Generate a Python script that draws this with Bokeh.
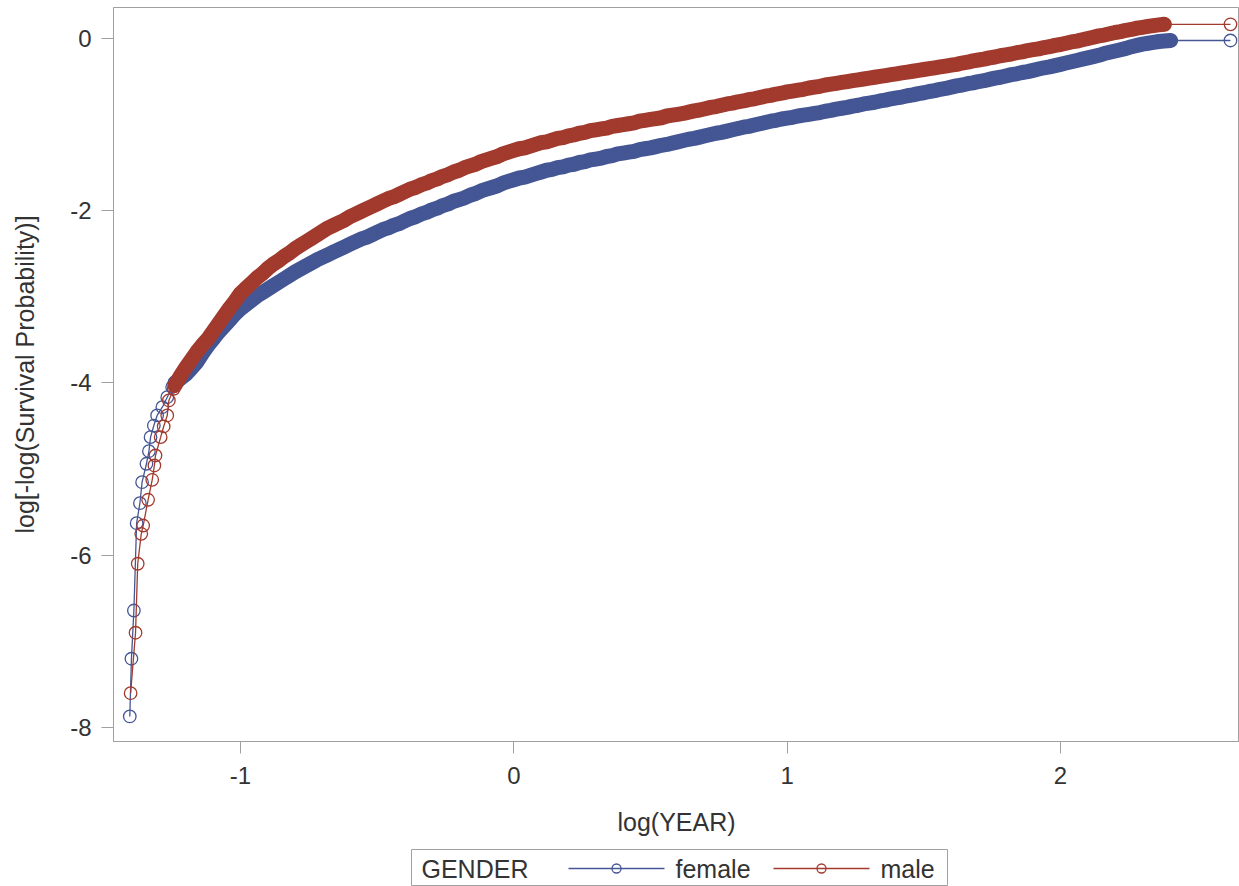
from bokeh.plotting import figure
from bokeh.models import Range1d, FixedTicker, Spacer
from bokeh.layouts import column, row
from bokeh.embed import file_html
from bokeh.resources import INLINE
from bokeh.core.properties import value

# ---------------- data ----------------
x_ticks = [-1, 0, 1, 2]
y_ticks = [-8, -6, -4, -2, 0]
x_title = "log(YEAR)"
y_title = "log[-log(Survival Probability)]"
legend_title = "GENDER"
series_names = ["female", "male"]
series_colors = ["#445694", "#A23A2E"]

# early (sparse) points
female_head_x = [-1.405, -1.399, -1.390, -1.380, -1.368, -1.360, -1.344, -1.335, -1.329, -1.317, -1.305, -1.286, -1.268, -1.250]
female_head_y = [-7.872, -7.202, -6.642, -5.628, -5.396, -5.152, -4.938, -4.792, -4.629, -4.494, -4.377, -4.281, -4.165, -4.049]
male_head_x = [-1.402, -1.384, -1.376, -1.363, -1.356, -1.338, -1.323, -1.315, -1.311, -1.292, -1.281, -1.268, -1.262, -1.244]
male_head_y = [-7.602, -6.900, -6.099, -5.751, -5.655, -5.356, -5.124, -4.958, -4.842, -4.629, -4.505, -4.377, -4.203, -4.067]

# dense part (log year positions where both curves were read)
grid_x = [
    -1.24, -1.22, -1.20, -1.18, -1.16, -1.14, -1.12, -1.10, -1.08, -1.06,
    -1.04, -1.02, -1.00, -0.98, -0.96, -0.94, -0.92, -0.90, -0.88, -0.86,
    -0.84, -0.82, -0.80, -0.78, -0.76, -0.74, -0.72, -0.70, -0.68, -0.66,
    -0.64, -0.62, -0.60, -0.58, -0.56, -0.54, -0.52, -0.50, -0.48, -0.46,
    -0.44, -0.42, -0.40, -0.38, -0.36, -0.34, -0.32, -0.30, -0.28, -0.26,
    -0.24, -0.22, -0.20, -0.18, -0.16, -0.14, -0.12, -0.10, -0.08, -0.06,
    -0.04, -0.02, 0.00, 0.02, 0.04, 0.06, 0.08, 0.10, 0.12, 0.14,
    0.16, 0.18, 0.20, 0.22, 0.24, 0.26, 0.28, 0.30, 0.32, 0.34,
    0.36, 0.38, 0.40, 0.42, 0.44, 0.46, 0.48, 0.50, 0.52, 0.54,
    0.56, 0.58, 0.60, 0.62, 0.64, 0.66, 0.68, 0.70, 0.72, 0.74,
    0.76, 0.78, 0.80, 0.82, 0.84, 0.86, 0.88, 0.90, 0.92, 0.94,
    0.96, 0.98, 1.00, 1.02, 1.04, 1.06, 1.08, 1.10, 1.12, 1.14,
    1.16, 1.18, 1.20, 1.22, 1.24, 1.26, 1.28, 1.30, 1.32, 1.34,
    1.36, 1.38, 1.40, 1.42, 1.44, 1.46, 1.48, 1.50, 1.52, 1.54,
    1.56, 1.58, 1.60, 1.62, 1.64, 1.66, 1.68, 1.70, 1.72, 1.74,
    1.76, 1.78, 1.80, 1.82, 1.84, 1.86, 1.88, 1.90, 1.92, 1.94,
    1.96, 1.98, 2.00, 2.02, 2.04, 2.06, 2.08, 2.10, 2.12, 2.14,
    2.16, 2.18, 2.20, 2.22, 2.24, 2.26, 2.28, 2.30, 2.32, 2.34,
    2.36, 2.38,
]
male_grid_y = [
    -4.03, -3.92, -3.82, -3.73, -3.64, -3.56, -3.49, -3.40, -3.31, -3.22,
    -3.13, -3.05, -2.96, -2.90, -2.84, -2.78, -2.73, -2.67, -2.62, -2.58,
    -2.53, -2.49, -2.44, -2.40, -2.36, -2.32, -2.28, -2.24, -2.20, -2.17,
    -2.14, -2.11, -2.07, -2.04, -2.01, -1.98, -1.95, -1.92, -1.89, -1.86,
    -1.84, -1.81, -1.78, -1.75, -1.73, -1.70, -1.68, -1.65, -1.63, -1.60,
    -1.58, -1.55, -1.53, -1.50, -1.48, -1.46, -1.43, -1.41, -1.39, -1.37,
    -1.34, -1.32, -1.30, -1.28, -1.27, -1.25, -1.23, -1.21, -1.20, -1.18,
    -1.16, -1.15, -1.13, -1.12, -1.10, -1.09, -1.07, -1.06, -1.05, -1.04,
    -1.02, -1.01, -1.00, -0.99, -0.98, -0.96, -0.95, -0.94, -0.93, -0.92,
    -0.90, -0.89, -0.88, -0.87, -0.855, -0.84, -0.83, -0.815, -0.80, -0.79,
    -0.775, -0.76, -0.75, -0.735, -0.725, -0.71, -0.70, -0.685, -0.67, -0.66,
    -0.645, -0.635, -0.62, -0.61, -0.60, -0.59, -0.575, -0.565, -0.555, -0.54,
    -0.53, -0.52, -0.51, -0.50, -0.49, -0.48, -0.47, -0.46, -0.45, -0.44,
    -0.43, -0.42, -0.41, -0.40, -0.39, -0.38, -0.37, -0.36, -0.35, -0.34,
    -0.33, -0.32, -0.31, -0.30, -0.285, -0.275, -0.26, -0.25, -0.24, -0.225,
    -0.215, -0.20, -0.19, -0.18, -0.165, -0.155, -0.14, -0.13, -0.12, -0.105,
    -0.095, -0.08, -0.07, -0.055, -0.04, -0.03, -0.015, 0.00, 0.015, 0.03,
    0.04, 0.055, 0.07, 0.08, 0.095, 0.105, 0.12, 0.13, 0.14, 0.15,
    0.158, 0.165,
]
female_grid_y = [
    -4.00, -3.95, -3.90, -3.83, -3.76, -3.66, -3.57, -3.49, -3.41, -3.34,
    -3.27, -3.20, -3.14, -3.09, -3.04, -2.99, -2.95, -2.91, -2.87, -2.83,
    -2.79, -2.75, -2.71, -2.675, -2.64, -2.605, -2.57, -2.54, -2.51, -2.48,
    -2.45, -2.42, -2.39, -2.36, -2.33, -2.31, -2.28, -2.25, -2.22, -2.20,
    -2.17, -2.15, -2.12, -2.09, -2.07, -2.04, -2.02, -1.99, -1.97, -1.94,
    -1.92, -1.89, -1.87, -1.85, -1.82, -1.80, -1.77, -1.75, -1.73, -1.71,
    -1.68, -1.66, -1.64, -1.62, -1.61, -1.59, -1.57, -1.55, -1.53, -1.52,
    -1.50, -1.49, -1.47, -1.46, -1.44, -1.43, -1.41, -1.40, -1.39, -1.37,
    -1.36, -1.34, -1.33, -1.32, -1.31, -1.29, -1.28, -1.27, -1.255, -1.24,
    -1.23, -1.215, -1.20, -1.185, -1.17, -1.16, -1.145, -1.13, -1.115, -1.10,
    -1.09, -1.075, -1.06, -1.045, -1.03, -1.02, -1.005, -0.99, -0.975, -0.96,
    -0.95, -0.935, -0.925, -0.915, -0.90, -0.89, -0.88, -0.87, -0.86, -0.845,
    -0.835, -0.82, -0.81, -0.80, -0.785, -0.775, -0.76, -0.75, -0.74, -0.725,
    -0.715, -0.70, -0.69, -0.68, -0.665, -0.655, -0.64, -0.63, -0.615, -0.605,
    -0.59, -0.58, -0.565, -0.55, -0.54, -0.525, -0.515, -0.50, -0.49, -0.475,
    -0.46, -0.45, -0.435, -0.42, -0.41, -0.395, -0.385, -0.37, -0.355, -0.34,
    -0.33, -0.315, -0.30, -0.285, -0.27, -0.255, -0.24, -0.225, -0.21, -0.195,
    -0.175, -0.16, -0.145, -0.13, -0.115, -0.095, -0.08, -0.065, -0.055, -0.045,
    -0.035, -0.03,
]

# last (sparse) points
female_tail_x = [2.403, 2.622]
female_tail_y = [-0.023, -0.023]
male_tail_x = [2.622]
male_tail_y = [0.165]

# ---------------- assemble ----------------
female_x = female_head_x + grid_x + female_tail_x
female_y = female_head_y + female_grid_y + female_tail_y
male_x = male_head_x + grid_x + male_tail_x
male_y = male_head_y + male_grid_y + male_tail_y
female_dense_x = grid_x + female_tail_x[:1]
female_dense_y = female_grid_y + female_tail_y[:1]
male_dense_x = grid_x
male_dense_y = male_grid_y
for a, b in [(female_x, female_y), (male_x, male_y), (female_dense_x, female_dense_y)]:
    if len(a) != len(b):
        raise ValueError("length mismatch %d vs %d" % (len(a), len(b)))

FONT = "Liberation Sans"
TXT = "#333333"
AXC = "#A0A0A0"

p = figure(width=1239, height=849, output_backend="svg", toolbar_location=None,
           title=None, x_range=Range1d(-1.4646, 2.655), y_range=Range1d(-8.163, 0.360),
           min_border=0, min_border_left=113, min_border_right=0, min_border_top=7,
           min_border_bottom=108)
p.background_fill_color = "white"
p.border_fill_color = "white"
p.outline_line_color = AXC
p.outline_line_width = 1
p.grid.visible = False

p.xaxis.ticker = FixedTicker(ticks=x_ticks)
p.yaxis.ticker = FixedTicker(ticks=y_ticks)
p.xaxis.major_label_overrides = {t: str(t) for t in x_ticks}
p.yaxis.major_label_overrides = {t: str(t) for t in y_ticks}
p.xaxis.axis_label = x_title
p.yaxis.axis_label = y_title
for ax in (p.xaxis[0], p.yaxis[0]):
    ax.axis_line_color = AXC
    ax.major_tick_line_color = AXC
    ax.minor_tick_line_color = None
    ax.major_tick_out = 12
    ax.major_tick_in = 0
    ax.major_label_text_font = FONT
    ax.major_label_text_font_size = "24px"
    ax.major_label_text_color = TXT
    ax.axis_label_text_font = FONT
    ax.axis_label_text_font_size = "25px"
    ax.axis_label_text_font_style = "normal"
    ax.axis_label_text_color = TXT
p.xaxis.major_label_standoff = 13
p.xaxis.axis_label_standoff = 21
p.yaxis.major_label_standoff = 10
p.yaxis.axis_label_standoff = 28

series = [
    (female_x, female_y, female_dense_x, female_dense_y, series_colors[0]),
    (male_x, male_y, male_dense_x, male_dense_y, series_colors[1]),
]
for xs, ys, dx, dy, col in series:
    # where thousands of circles overlap they merge into a solid band
    p.line(dx, dy, line_color=col, line_width=15, line_join="round", line_cap="round")
    p.line(xs, ys, line_color=col, line_width=1.3)
    p.scatter(xs, ys, marker="circle", size=12.5, line_color=col, line_width=1.3,
              fill_color=None)

# ---------------- legend (separate strip below) ----------------
lg = figure(width=537, height=37, output_backend="svg", toolbar_location=None, title=None,
            x_range=Range1d(0, 537), y_range=Range1d(0, 37), min_border=0,
            x_axis_location=None, y_axis_location=None)
lg.grid.visible = False
lg.outline_line_color = AXC
lg.background_fill_color = "white"
lg.text(x=[10], y=[18], text=[legend_title], text_font=value(FONT), text_font_size="25px",
        text_color=TXT, text_baseline="middle", text_align="left")
swatch_left = [157, 362]
for i, name in enumerate(series_names):
    x0 = swatch_left[i]
    col = series_colors[i]
    lg.line([x0, x0 + 96], [18, 18], line_color=col, line_width=1.3)
    lg.scatter([x0 + 48], [18], marker="circle", size=9, line_color=col, line_width=1.3,
               fill_color=None)
    lg.text(x=[x0 + 107], y=[18], text=[name], text_font=value(FONT), text_font_size="25px",
            text_color=TXT, text_baseline="middle", text_align="left")

layout = column(p, row(Spacer(width=411, height=37), lg), spacing=0)
open("out.html", "w").write(file_html(layout, INLINE, title="plot"))
